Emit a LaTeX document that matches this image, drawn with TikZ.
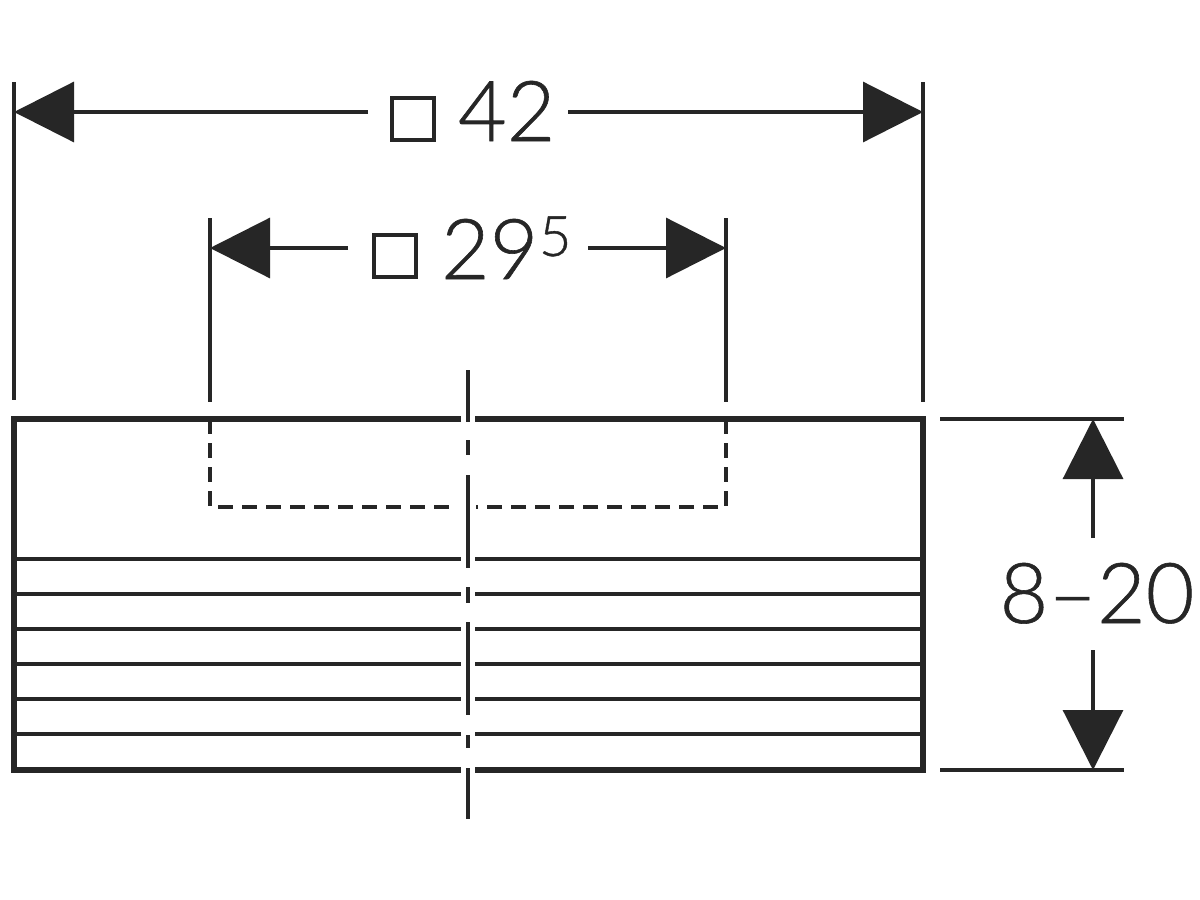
\documentclass[tikz,border=0pt]{standalone}
\usepackage{fontspec}
\usetikzlibrary{arrows.meta}
\newfontfamily\dimfont[FakeBold=0.7]{Lato Light}
\definecolor{ink}{HTML}{262626}
\tikzset{
  dimline/.style={draw=ink,line width=3.2pt},
  thick outline/.style={draw=ink,line width=5.4pt},
  rib/.style={draw=ink,line width=3.8pt},
  hidden/.style={draw=ink,line width=3.4pt,dash pattern=on 15pt off 9pt},
  axis/.style={draw=ink,line width=4pt},
  dimtip/.style={-{Triangle[length=60pt,width=60pt,fill=ink,color=ink]}},
  dimtext/.style={inner sep=0pt,outer sep=0pt,text=ink,font=\dimfont\fontsize{84}{84}\selectfont},
  sqbox/.style={draw=ink,line width=4pt,minimum width=42pt,minimum height=42pt,inner sep=0pt},
}
\begin{document}
\begin{tikzpicture}[x=1pt,y=-1pt]
\useasboundingbox[fill=white] (0,0) rectangle (1200,900);
% part outline with centre-line gaps
\draw[thick outline] (461,419) -- (14,419) -- (14,770) -- (461,770);
\draw[thick outline] (475,419) -- (923,419) -- (923,770) -- (475,770);
\foreach \yy in {559,594,629,664,699,734}{
  \draw[rib] (14,\yy) -- (461,\yy);
  \draw[rib] (475,\yy) -- (923,\yy);
}
% hidden recess
\draw[hidden] (210,419) -- (210,507) -- (455,507);
\draw[hidden] (726,419) -- (726,507) -- (476,507);
% centre line
\foreach \a/\b in {370/422,440/455,475/568,587/603,622/715,735/748,768/819}{
  \draw[axis] (467.5,\a) -- (467.5,\b);
}
% extension lines
\coordinate (extA) at (14,82);   \coordinate (extAe) at (14,400);
\coordinate (extB) at (923,82);  \coordinate (extBe) at (923,402);
\coordinate (extC) at (210,218); \coordinate (extCe) at (210,402);
\coordinate (extD) at (726,218); \coordinate (extDe) at (726,402);
\coordinate (extE) at (940,419); \coordinate (extEe) at (1124,419);
\coordinate (extF) at (940,770); \coordinate (extFe) at (1124,770);
\draw[dimline] (extA)--(extAe) (extB)--(extBe) (extC)--(extCe) (extD)--(extDe) (extE)--(extEe) (extF)--(extFe);
% labels
\node[sqbox] (sqA) at (412.5,119) {};
\node[dimtext,anchor=base west] (valA) at (458,141) {42};
\node[sqbox] (sqB) at (395,255.5) {};
\node[dimtext,anchor=base west] (valB) at (441,279) {29};
\node[dimtext,anchor=base west,font=\dimfont\fontsize{56}{56}\selectfont] (supB) at (539,256) {5};
\node[dimtext,anchor=base] (valC) at (1097,623) {8–20};
% dimension arrows
\coordinate (a1) at (368,112); \coordinate (a2) at (568,112);
\coordinate (b1) at (348,248); \coordinate (b2) at (588,248);
\coordinate (c1) at (1093,538); \coordinate (c2) at (1093,650);
\coordinate (tipA1) at (14,112); \coordinate (tipA2) at (923,112);
\coordinate (tipB1) at (210,248); \coordinate (tipB2) at (726,248);
\coordinate (tipC1) at (1093,419); \coordinate (tipC2) at (1093,770);
\draw[dimline,dimtip] (a1) -- (tipA1);
\draw[dimline,dimtip] (a2) -- (tipA2);
\draw[dimline,dimtip] (b1) -- (tipB1);
\draw[dimline,dimtip] (b2) -- (tipB2);
\draw[dimline,dimtip] (c1) -- (tipC1);
\draw[dimline,dimtip] (c2) -- (tipC2);
\end{tikzpicture}
\end{document}
